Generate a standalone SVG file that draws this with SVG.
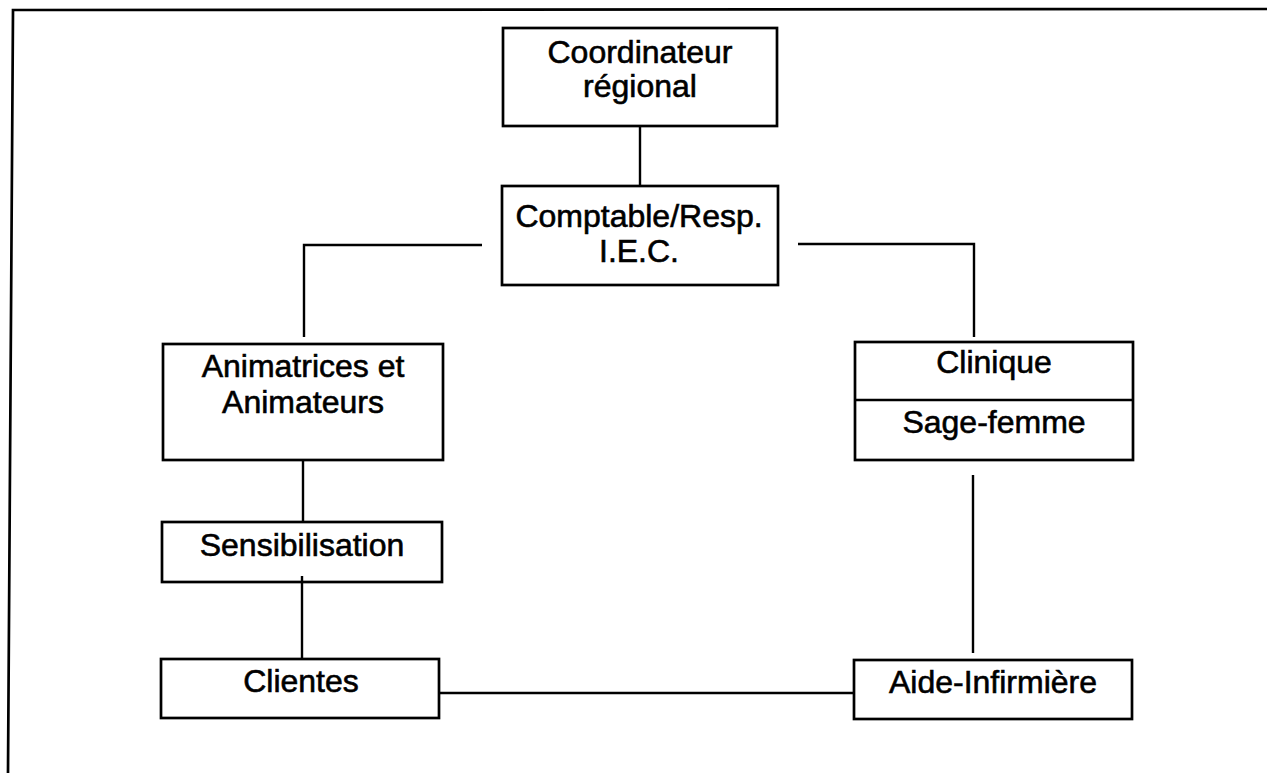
<svg xmlns="http://www.w3.org/2000/svg" width="1267" height="773" viewBox="0 0 1267 773">
<style>
.box{fill:#fff;stroke:#000;stroke-width:2.7}
.conn{fill:none;stroke:#000;stroke-width:2.4}
.frame{fill:none;stroke:#000;stroke-width:2.7}
text{font-family:"Liberation Sans",Arial,sans-serif;font-size:32px;fill:#000;stroke:#000;stroke-width:0.6;text-anchor:middle}
</style>
<rect width="1267" height="773" fill="#fff"/>
<path class="frame" d="M8,773 L13,10 L1267,9"/>
<g id="coordinateur">
<rect class="box" x="503" y="28" width="274" height="98"/>
<text x="640" y="63">Coordinateur</text>
<text x="640" y="97">régional</text>
</g>
<g id="comptable">
<rect class="box" x="502" y="186" width="276" height="99"/>
<text x="639" y="227">Comptable/Resp.</text>
<text x="639" y="262">I.E.C.</text>
</g>
<g id="animatrices">
<rect class="box" x="163" y="344" width="280" height="116"/>
<text x="303" y="377">Animatrices et</text>
<text x="303" y="413">Animateurs</text>
</g>
<g id="clinique">
<rect class="box" x="855" y="342" width="278" height="118"/>
<line class="box" x1="855" y1="400" x2="1133" y2="400"/>
<text x="994" y="373">Clinique</text>
<text x="994" y="433">Sage-femme</text>
</g>
<g id="sensibilisation">
<rect class="box" x="162" y="522" width="280" height="60"/>
<text x="302" y="556">Sensibilisation</text>
</g>
<g id="clientes">
<rect class="box" x="161" y="659" width="278" height="59"/>
<text x="301" y="692">Clientes</text>
</g>
<g id="aide-infirmiere">
<rect class="box" x="854" y="660" width="278" height="59"/>
<text x="993" y="693">Aide-Infirmière</text>
</g>
<g id="connectors">
<path class="conn" d="M640,126 V186"/>
<path class="conn" d="M482,245 H304 V337"/>
<path class="conn" d="M798,244 H974 V337"/>
<path class="conn" d="M303,460 V522"/>
<path class="conn" d="M302,576 V659"/>
<path class="conn" d="M973,475 V653"/>
<path class="conn" d="M440,693 H854"/>
</g>
</svg>
